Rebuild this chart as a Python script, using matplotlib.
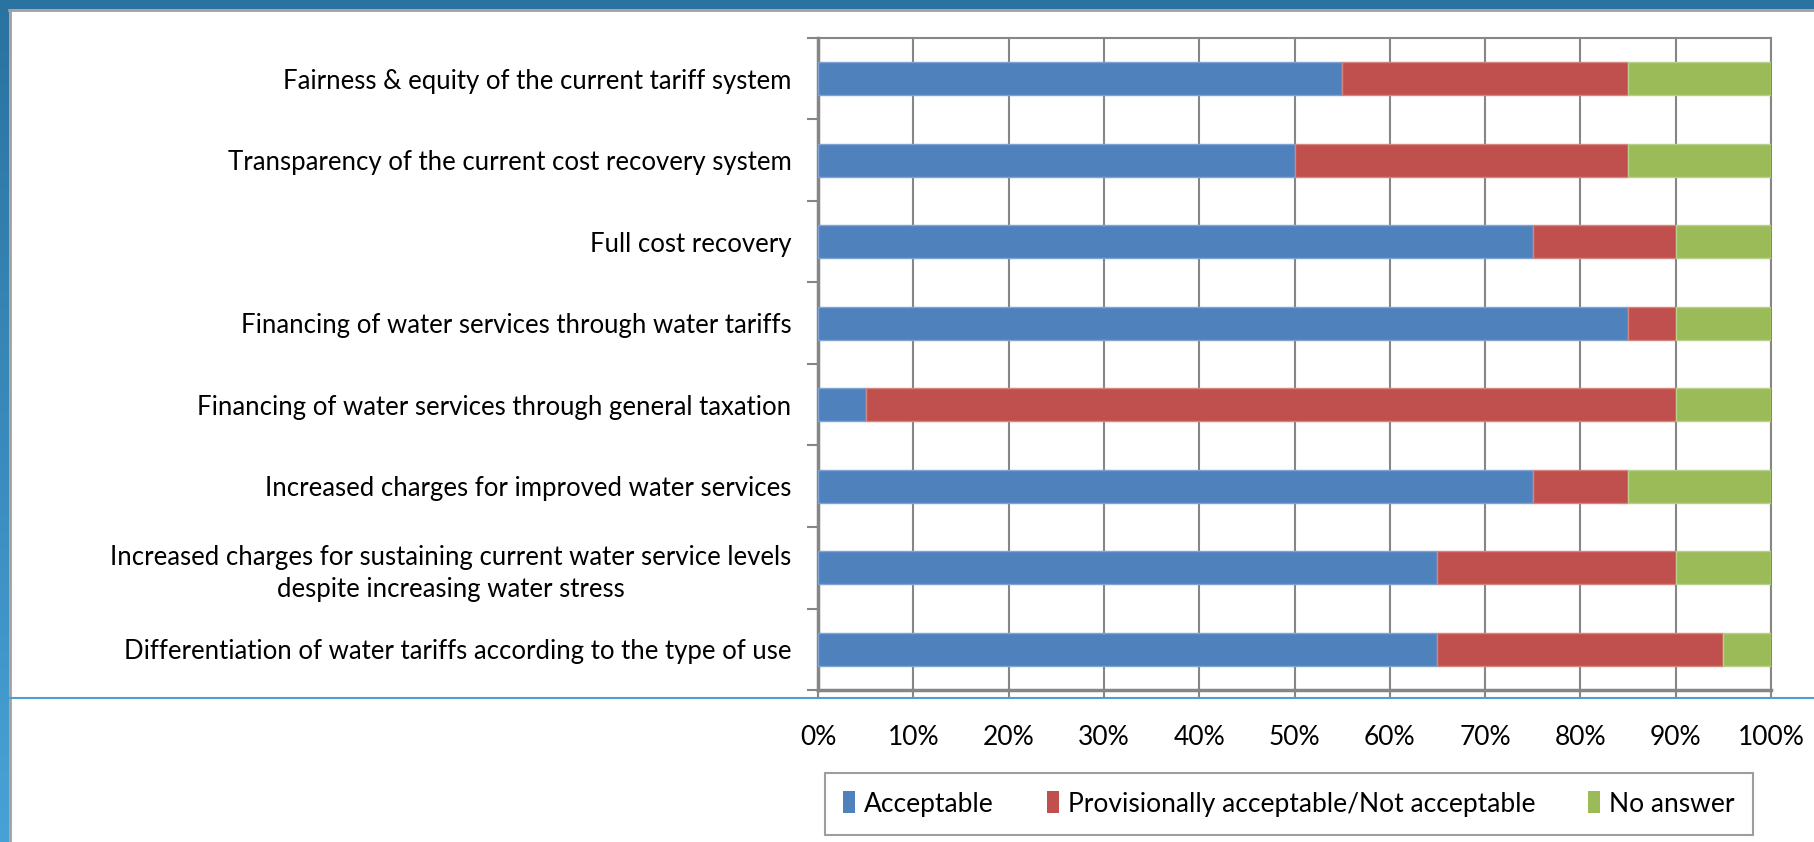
import numpy as np
import matplotlib.pyplot as plt
from matplotlib.patches import Rectangle
from matplotlib.lines import Line2D

plt.rcParams['font.family'] = ['Lato', 'DejaVu Sans']

categories = [
    'Fairness & equity of the current tariff system',
    'Transparency of the current cost recovery system',
    'Full cost recovery',
    'Financing of water services through water tariffs',
    'Financing of water services through general taxation',
    'Increased charges for improved water services',
    'Increased charges for sustaining current water service levels\ndespite increasing water stress',
    'Differentiation of water tariffs according to the type of use',
]
acceptable = [55, 50, 75, 85, 5, 75, 65, 65]
not_acceptable = [30, 35, 15, 5, 85, 10, 25, 30]
no_answer = [15, 15, 10, 10, 10, 15, 10, 5]
series_names = ['Acceptable', 'Provisionally acceptable/Not acceptable', 'No answer']
colors = ['#4F81BD', '#C0504D', '#9BBB59']
edges = ['#7FA3D3', '#D58480', '#B7D08B']

W, H = 1814, 842
fig = plt.figure(figsize=(W / 100, H / 100), dpi=100)

# slide-style frame: blue strips on top and left, grey inner border
fig.patches.append(Rectangle((0, 1 - 9 / H), 1, 9 / H, transform=fig.transFigure,
                             facecolor='#2A72A0', edgecolor='none', zorder=0))
steps = np.linspace(0, 1, 50)
for i in range(49):
    c = np.array([0x2A, 0x72, 0xA0]) * (1 - steps[i]) + np.array([0x48, 0xA2, 0xD6]) * steps[i]
    fig.patches.append(Rectangle((0, 1 - steps[i + 1]), 9 / W, steps[i + 1] - steps[i] + 0.001,
                                 transform=fig.transFigure, facecolor=c / 255,
                                 edgecolor='none', zorder=0))
fig.lines.append(Line2D([9 / W, 1], [1 - 10 / H, 1 - 10 / H], transform=fig.transFigure,
                        color='#A0A0A0', lw=2))
fig.lines.append(Line2D([10 / W, 10 / W], [0, 1 - 10 / H], transform=fig.transFigure,
                        color='#A0A0A0', lw=2))
fig.lines.append(Line2D([10 / W, 1], [1 - 698 / H, 1 - 698 / H], transform=fig.transFigure,
                        color='#4A9FD4', lw=1.5))

ax = fig.add_axes([818 / W, 1 - 690 / H, (1771 - 818) / W, (690 - 38) / H])

y = np.arange(len(categories))
h = 0.4
ax.barh(y, acceptable, height=h, color=colors[0], edgecolor=edges[0], lw=1,
        label=series_names[0], zorder=3)
ax.barh(y, not_acceptable, left=acceptable, height=h, color=colors[1],
        edgecolor=edges[1], lw=1, label=series_names[1], zorder=3)
ax.barh(y, no_answer, left=np.add(acceptable, not_acceptable), height=h,
        color=colors[2], edgecolor=edges[2], lw=1, label=series_names[2], zorder=3)

ax.set_xlim(0, 100)
ax.set_ylim(len(categories) - 0.5, -0.5)
ax.set_xticks(np.arange(0, 101, 10))
ax.set_xticklabels([f'{v}%' for v in range(0, 101, 10)], fontsize=19)
ax.tick_params(axis='x', length=6, width=1.5, color='#868686', pad=19)
ax.grid(axis='x', color='#868686', lw=1.5, zorder=0)

# category labels between separator ticks
ax.set_yticks(y)
ax.set_yticklabels(categories, fontsize=18.5, ha='right', multialignment='center',
                   linespacing=1.35)
ax.tick_params(axis='y', length=0, pad=19)
ax.set_yticks(np.arange(-0.5, len(categories), 1), minor=True)
ax.tick_params(axis='y', which='minor', length=8, width=1.5, color='#868686')

for s in ax.spines.values():
    s.set_color('#868686')
    s.set_linewidth(2.5)
ax.spines['top'].set_linewidth(1.5)
ax.spines['right'].set_linewidth(1.5)

leg = fig.legend(loc='center', bbox_to_anchor=(1289 / W, 1 - 804 / H), ncol=3,
                 fontsize=19, frameon=True, fancybox=False, handlelength=0.45,
                 handleheight=0.9, handletextpad=0.35, columnspacing=2.0,
                 borderpad=0.7, borderaxespad=0, edgecolor='#868686')
leg.get_frame().set_linewidth(1.5)
for p in leg.get_patches():
    p.set_edgecolor('none')

fig.savefig('out.png', dpi=100)
